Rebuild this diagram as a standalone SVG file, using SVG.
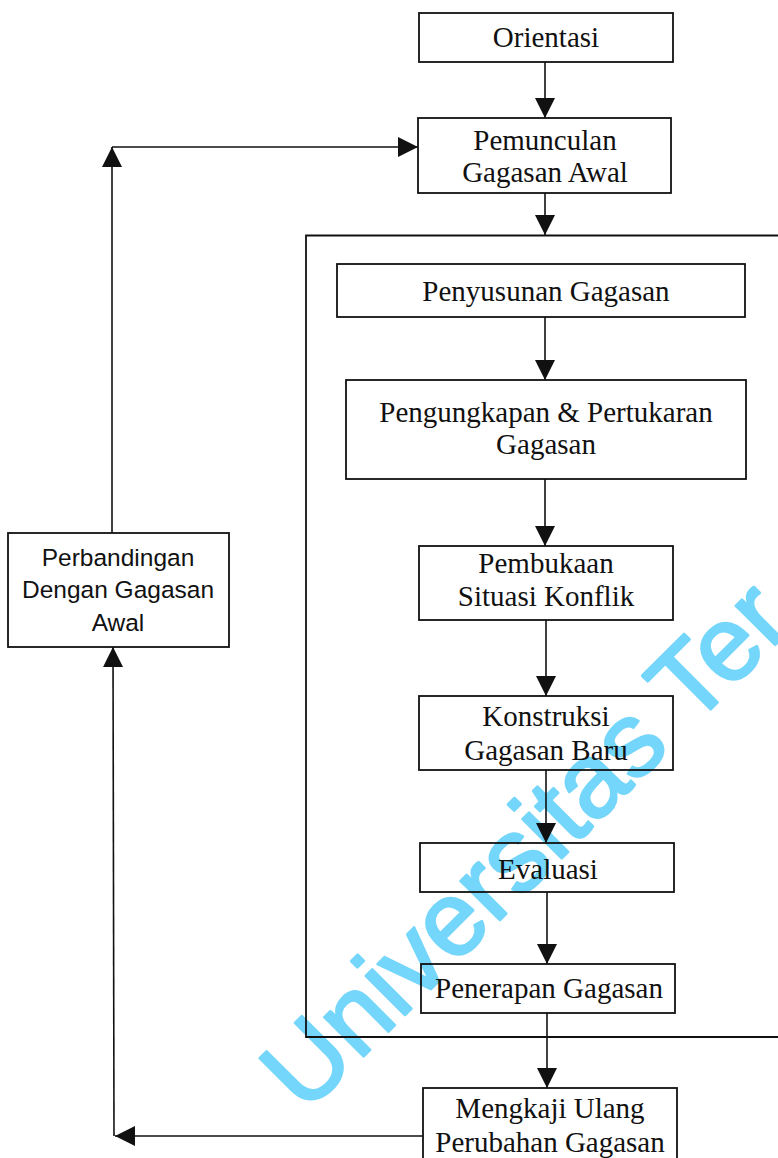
<svg xmlns="http://www.w3.org/2000/svg" width="778" height="1158" viewBox="0 0 778 1158">
  <style>
    .box { fill: none; stroke: #111; stroke-width: 1.8; }
    .wire { fill: none; stroke: #111; stroke-width: 1.6; marker-end: url(#ah); }
    .lbl { font-family: "Liberation Serif", "Times New Roman", serif; font-size: 29px; text-anchor: middle; fill: #111; }
    .sans { font-family: "Liberation Sans", Arial, sans-serif; font-size: 24.5px; text-anchor: middle; fill: #111; }
    .mark { font-family: "Liberation Sans", Arial, sans-serif; font-size: 105px; fill: #74d6fa; stroke: #74d6fa; stroke-width: 2.5; stroke-linejoin: round; }
  </style>
  <defs>
    <marker id="ah" markerUnits="userSpaceOnUse" markerWidth="20" markerHeight="20" refX="20" refY="10" orient="auto">
      <path d="M0,0 L20,10 L0,20 z" fill="#111"/>
    </marker>
  </defs>
  <rect width="778" height="1158" fill="#fff"/>

  <!-- watermark -->
  <text class="mark" transform="translate(305,1115) rotate(-45)">Universitas Ter</text>

  <!-- frame around the idea-restructuring phase -->
  <path id="frame" class="box" d="M790,235.5 H306 V1037 H790"/>

  <g id="connectors">
    <line class="wire" x1="545" y1="62" x2="545" y2="118"/>
    <line class="wire" x1="545" y1="193" x2="545" y2="235"/>
    <line class="wire" x1="545" y1="317" x2="545" y2="380"/>
    <line class="wire" x1="545" y1="479" x2="545" y2="546"/>
    <line class="wire" x1="546" y1="620" x2="546" y2="696"/>
    <line class="wire" x1="546" y1="770" x2="546" y2="843"/>
    <line class="wire" x1="547" y1="892" x2="547" y2="964"/>
    <line class="wire" x1="547" y1="1013" x2="547" y2="1088"/>
    <!-- feedback loop -->
    <line class="wire" x1="423" y1="1136" x2="115" y2="1136"/>
    <line class="wire" x1="114" y1="1136" x2="113" y2="647"/>
    <line class="wire" x1="112" y1="533" x2="112" y2="147"/>
    <line class="wire" x1="112" y1="147" x2="418" y2="147"/>
  </g>

  <g id="orientasi">
    <rect class="box" x="419" y="13" width="254" height="49"/>
    <text class="lbl" x="546" y="47">Orientasi</text>
  </g>
  <g id="pemunculan">
    <rect class="box" x="418" y="118" width="253" height="75"/>
    <text class="lbl" x="545" y="150">Pemunculan</text>
    <text class="lbl" x="545" y="182">Gagasan Awal</text>
  </g>
  <g id="penyusunan">
    <rect class="box" x="337" y="264" width="408" height="53"/>
    <text class="lbl" x="546" y="301">Penyusunan Gagasan</text>
  </g>
  <g id="pengungkapan">
    <rect class="box" x="346" y="380" width="400" height="99"/>
    <text class="lbl" x="546" y="422">Pengungkapan &amp; Pertukaran</text>
    <text class="lbl" x="546" y="454">Gagasan</text>
  </g>
  <g id="pembukaan">
    <rect class="box" x="419" y="546" width="254" height="74"/>
    <text class="lbl" x="546" y="573">Pembukaan</text>
    <text class="lbl" x="546" y="606">Situasi Konflik</text>
  </g>
  <g id="konstruksi">
    <rect class="box" x="419" y="696" width="254" height="74"/>
    <text class="lbl" x="546" y="726">Konstruksi</text>
    <text class="lbl" x="546" y="760">Gagasan Baru</text>
  </g>
  <g id="evaluasi">
    <rect class="box" x="420" y="843" width="254" height="49"/>
    <text class="lbl" x="548" y="879">Evaluasi</text>
  </g>
  <g id="penerapan">
    <rect class="box" x="421" y="964" width="254" height="49"/>
    <text class="lbl" x="549" y="998">Penerapan Gagasan</text>
  </g>
  <g id="mengkaji">
    <rect class="box" x="423" y="1088" width="254" height="90"/>
    <text class="lbl" x="550" y="1118">Mengkaji Ulang</text>
    <text class="lbl" x="550" y="1152">Perubahan Gagasan</text>
  </g>
  <g id="perbandingan">
    <rect class="box" x="8" y="533" width="221" height="114"/>
    <text class="sans" x="118" y="566">Perbandingan</text>
    <text class="sans" x="118" y="598">Dengan Gagasan</text>
    <text class="sans" x="118" y="631">Awal</text>
  </g>
</svg>
